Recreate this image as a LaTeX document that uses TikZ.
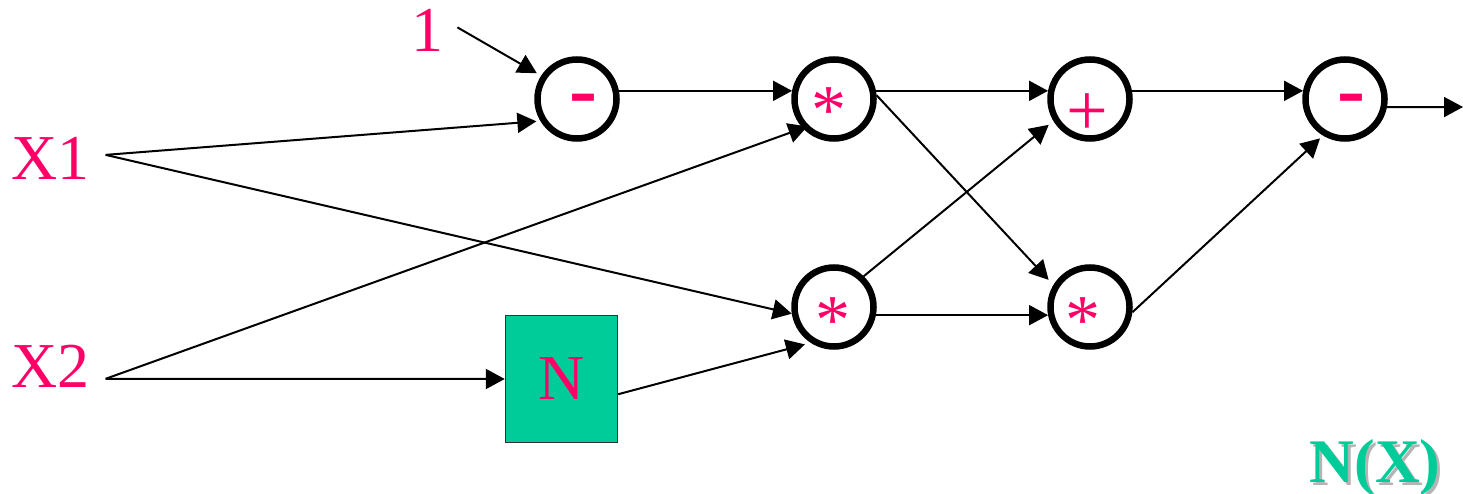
\documentclass[tikz,border=0pt]{standalone}
\usepackage{fontspec}
\setmainfont{Liberation Serif}
\usetikzlibrary{arrows.meta}
\definecolor{sigpink}{HTML}{FF0066}
\definecolor{boxgreen}{HTML}{00CC99}
\definecolor{shadowgray}{HTML}{B4B4B4}
\definecolor{boxedge}{HTML}{333333}

\begin{document}
\begin{tikzpicture}[x=1pt,y=-1pt,
  op/.style={circle, draw=black, line width=6.5pt, minimum size=79pt, inner sep=0pt},
  sym/.style={text=sigpink, inner sep=0pt, font=\fontsize{70}{70}\selectfont},
  minus/.style={sym, font=\bfseries\fontsize{84}{84}\selectfont},
  wire/.style={line width=2pt, -{Triangle[length=19pt,width=20pt]}},
  inlabel/.style={text=sigpink, font=\fontsize{64}{64}\selectfont, inner sep=0pt, anchor=base west},
]
\useasboundingbox (0,0) rectangle (1463,494);

% inputs
\node[inlabel] (x1) at (11,180) {X1};
\node[inlabel] (x2) at (11,387) {X2};
\node[inlabel] (one) at (411,52) {1};

% operator circles
\node[op, label={[minus, xshift=6pt, yshift=-7pt]center:-}] (m1) at (577,99) {};
\node[op, label={[sym, xshift=-5pt, yshift=-12pt]center:*}] (mt) at (834,99) {};
\node[op, label={[sym, xshift=-1pt, yshift=-14pt]center:*}] (mb) at (834,307) {};
\node[op, label={[sym, font=\fontsize{74}{74}\selectfont, xshift=-3pt, yshift=-16pt]center:+}] (pl) at (1090,99) {};
\node[op, label={[sym, xshift=-7pt, yshift=-14pt]center:*}] (mr) at (1090,307) {};
\node[op, label={[minus, xshift=6pt, yshift=-7pt]center:-}] (m2) at (1345,99) {};

% N block
\node[draw=boxedge, fill=boxgreen, line width=1.5pt, minimum width=112pt, minimum height=127pt,
      inner sep=0pt, text=sigpink, font=\fontsize{64}{64}\selectfont] (nb) at (561.5,379) {N};

% output label with drop shadow
\node[anchor=base west, inner sep=0pt, text=shadowgray, font=\bfseries\fontsize{62}{62}\selectfont] (nxs) at (1312.5,485) {N(X)};
\node[anchor=base west, inner sep=0pt, text=boxgreen, font=\bfseries\fontsize{62}{62}\selectfont] (nx) at (1309.5,482) {N(X)};

% connectors
\draw[wire, shorten >=5pt] ([shift={(14,-3.5)}]one.east) -- (m1.147);
\draw[wire, shorten >=4pt] ([shift={(16,-4)}]x1.east) -- (m1.211);
\draw[wire] ([shift={(16,-4)}]x1.east) -- (mb.189);
\draw[wire, shorten >=-5pt] ([shift={(16,13)}]x2.east) -- (mt.223);
\draw[wire] ([shift={(16,13)}]x2.east) -- (nb.west);
\draw[wire, shorten >=6pt] (nb.-15.8) -- (mb.237);
\draw[wire] (m1.11) -- (mt.169);
\draw[wire] (mt.11) -- (pl.169);
\draw[wire, shorten >=7pt] (mt.5) -- (mr.149);
\draw[wire, shorten >=6pt] (mb.46) -- (pl.211);
\draw[wire] (mb.-11) -- (mr.191);
\draw[wire] (pl.11) -- (m2.169);
\draw[wire, shorten >=4pt] (mr.-7) -- (m2.239);
\coordinate (out) at (1463,107);
\draw[wire] (m2.-11) -- (out);
\end{tikzpicture}
\end{document}
